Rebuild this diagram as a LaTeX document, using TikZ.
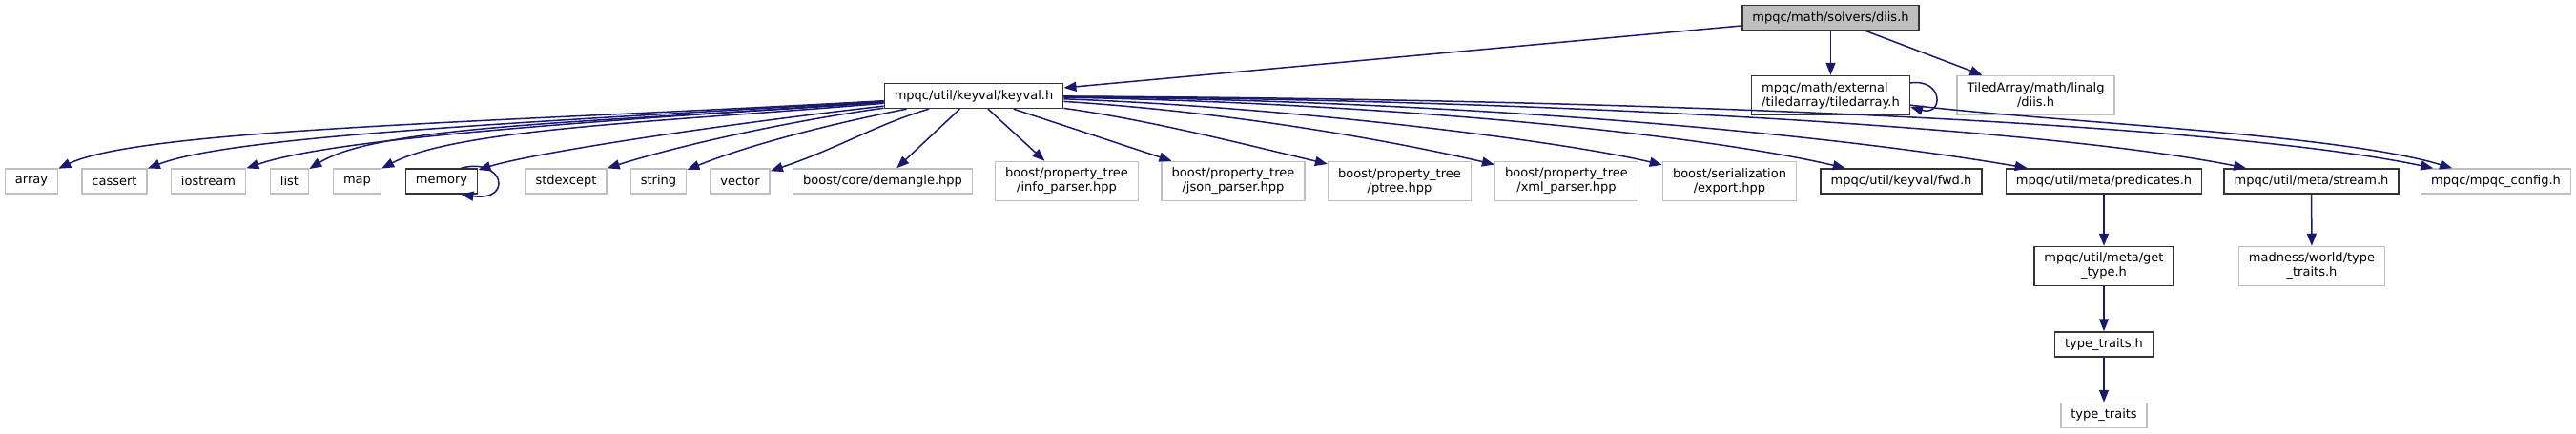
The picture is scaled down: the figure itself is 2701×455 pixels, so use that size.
\documentclass[tikz,border=0pt]{standalone}
\usepackage{fontspec}
\setmainfont{DejaVu Sans}
\usetikzlibrary{arrows.meta, positioning}
\definecolor{edgeblue}{RGB}{25,25,112}
\definecolor{boxgray}{RGB}{191,191,191}
\tikzset{
    filebox/.style={rectangle, draw=black!80, line width=1.5pt, fill=white, align=center,
                    inner xsep=10.5pt, inner ysep=0pt, minimum height=26pt,
                    font=\fontsize{13}{15}\selectfont},
    extbox/.style={filebox, draw=boxgray},
    rootbox/.style={filebox, fill=boxgray},
    twoline/.style={minimum height=41pt},
    dep/.style={-{Triangle[length=13pt,width=10pt]}, line width=1.5pt, draw=edgeblue, fill=none},
}
\begin{document}
\begin{tikzpicture}[x=1pt, y=-1pt]
    \useasboundingbox (0,0) rectangle (2701,455);
    % top levels
    \node[rootbox] (diis) at (1919.5,18.5) {mpqc/math/solvers/diis.h};
    \node[filebox] (keyval) at (1021,100.5) {mpqc/util/keyval/keyval.h};
    \node[filebox, twoline, align=left] (tiledarray) at (1919.5,100) {mpqc/math/external\\/tiledarray/tiledarray.h};
    \node[extbox, twoline] (linalg) at (2134.5,100) {TiledArray/math/linalg\\/diis.h};
    % includes of keyval.h
    \node[extbox] (array) at (33,190) {array};
    \node[extbox] (cassert) at (120,190) {cassert};
    \node[extbox] (iostream) at (218.5,190) {iostream};
    \node[extbox] (list) at (303.5,190) {list};
    \node[extbox] (map) at (374.5,190) {map};
    \node[filebox] (memory) at (463,190) {memory};
    \node[extbox] (stdexcept) at (593.5,190) {stdexcept};
    \node[extbox] (string) at (690.5,190) {string};
    \node[extbox] (vector) at (776,190) {vector};
    \node[extbox] (demangle) at (925.5,190) {boost/core/demangle.hpp};
    \node[extbox, twoline] (infoparser) at (1118.5,190) {boost/property\_tree\\/info\_parser.hpp};
    \node[extbox, twoline] (jsonparser) at (1293,190) {boost/property\_tree\\/json\_parser.hpp};
    \node[extbox, twoline] (ptree) at (1467.5,190) {boost/property\_tree\\/ptree.hpp};
    \node[extbox, twoline] (xmlparser) at (1642.5,190) {boost/property\_tree\\/xml\_parser.hpp};
    \node[extbox, twoline] (export) at (1813.5,190) {boost/serialization\\/export.hpp};
    \node[filebox] (fwd) at (1993.5,190) {mpqc/util/keyval/fwd.h};
    \node[filebox] (predicates) at (2206,190) {mpqc/util/meta/predicates.h};
    \node[filebox] (stream) at (2423.5,190) {mpqc/util/meta/stream.h};
    \node[extbox] (config) at (2617,190) {mpqc/mpqc\_config.h};
    % lower levels
    \node[filebox, twoline] (gettype) at (2206,279) {mpqc/util/meta/get\\\_type.h};
    \node[extbox, twoline] (madness) at (2424,279) {madness/world/type\\\_traits.h};
    \node[filebox] (typetraitsh) at (2206,361) {type\_traits.h};
    \node[extbox] (typetraits) at (2206,435.5) {type\_traits};

    % edges from diis.h
    \draw[dep] (diis) -- (keyval);
    \draw[dep] (diis) -- (tiledarray);
    \draw[dep] (diis) -- (linalg);
    \draw[dep] ([yshift=13pt]tiledarray.east) .. controls +(35,-5) and +(35,10) .. ([yshift=-12pt]tiledarray.east);
    \draw[dep] (tiledarray) .. controls (2150,128) and (2450,140) .. (config);
    % edges from keyval.h, left side
    \draw[dep] (keyval) .. controls (526,128) and (150,135) .. (array);
    \draw[dep] (keyval) .. controls (560,128) and (245,142) .. (cassert);
    \draw[dep] (keyval) .. controls (610,128) and (350,145) .. (iostream);
    \draw[dep] (keyval) .. controls (640,128) and (400,130) .. (list);
    \draw[dep] (keyval) .. controls (690,128) and (480,135) .. (map);
    \draw[dep] (keyval) .. controls (760,130) and (560,160) .. (memory);
    \draw[dep] ([xshift=-18pt]memory.north east) .. controls +(45,-12) and +(55,8) .. ([xshift=-18pt]memory.south east);
    \draw[dep] (keyval) .. controls (840,125) and (720,150) .. (stdexcept);
    \draw[dep] (keyval) .. controls (880,128) and (790,150) .. (string);
    \draw[dep] (keyval) .. controls (920,130) and (880,155) .. (vector);
    \draw[dep] (keyval) -- (demangle);
    % edges from keyval.h, right side
    \draw[dep] (keyval) -- (infoparser);
    \draw[dep] (keyval) -- (jsonparser);
    \draw[dep] (keyval) .. controls (1200,125) and (1300,150) .. (ptree);
    \draw[dep] (keyval) .. controls (1300,118) and (1470,150) .. (xmlparser);
    \draw[dep] (keyval) .. controls (1350,112) and (1640,148) .. (export);
    \draw[dep] (keyval) .. controls (1450,108) and (1780,140) .. (fwd);
    \draw[dep] (keyval) .. controls (1550,106) and (1920,141) .. (predicates);
    \draw[dep] (keyval) .. controls (1650,105) and (2150,135) .. (stream);
    \draw[dep] (keyval) .. controls (1750,104) and (2330,130) .. (config);
    % lower chains
    \draw[dep] (predicates) -- (gettype);
    \draw[dep] (gettype) -- (typetraitsh);
    \draw[dep] (typetraitsh) -- (typetraits);
    \draw[dep] (stream) -- (madness);
\end{tikzpicture}
\end{document}
